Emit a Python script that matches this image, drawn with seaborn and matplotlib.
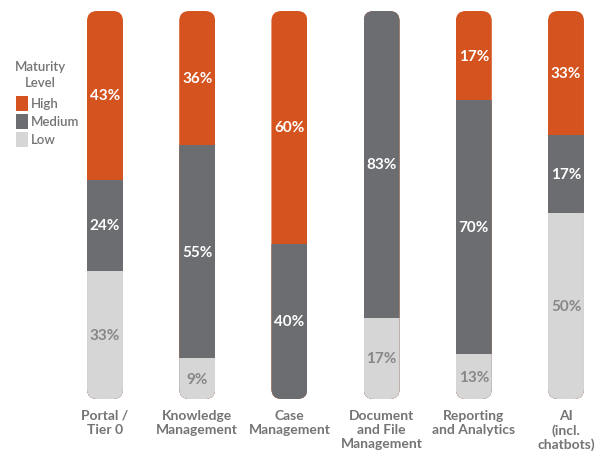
import matplotlib
matplotlib.use("Agg")
import matplotlib.pyplot as plt
from matplotlib.patches import FancyBboxPatch, Rectangle
import seaborn as sns
import pandas as pd

categories = ["Portal /\nTier 0", "Knowledge\nManagement", "Case\nManagement",
              "Document\nand File\nManagement", "Reporting\nand Analytics", "AI\n(incl.\nchatbots)"]
# printed percentages
high = [43, 36, 60, 0, 17, 33]
medium = [24, 55, 40, 83, 70, 17]
low = [33, 9, 0, 17, 13, 50]
# segment heights as drawn in the picture (the original art is not exactly proportional)
high_drawn = [43.5, 34.5, 60, 0, 23, 32]
medium_drawn = [23.5, 55, 40, 79, 65.5, 20]
low_drawn = [33, 10.5, 0, 21, 11.5, 48]
legend_title = "Maturity\nLevel"
legend_labels = ["High", "Medium", "Low"]

C_HIGH = "#D4531E"
C_MED = "#6C6D70"
C_LOW = "#D6D6D6"
C_TEXT = "#747474"
C_LOWTXT = "#878787"

sns.set_theme(style="white")
plt.rcParams["font.family"] = ["Lato", "DejaVu Sans"]

W, H = 599, 452
fig = plt.figure(figsize=(W / 100, H / 100), dpi=100)
ax = fig.add_axes([0, (H - 400) / H, 1, (400 - 12) / H])

df = pd.DataFrame({"cat": categories, "high": high_drawn, "medium": medium_drawn, "low": low_drawn})
df["total"] = df["high"] + df["medium"] + df["low"]
df["lm"] = df["low"] + df["medium"]

bw = 0.39
sns.barplot(data=df, x="cat", y="total", color=C_HIGH, saturation=1, width=bw, ax=ax, order=categories)
sns.barplot(data=df, x="cat", y="lm", color=C_MED, saturation=1, width=bw, ax=ax, order=categories)
sns.barplot(data=df, x="cat", y="low", color=C_LOW, saturation=1, width=bw, ax=ax, order=categories)

ax.set_xlim(-105 / 92.2, 5 + 33 / 92.2)
ax.set_ylim(0, 100)

# rounded clipping for pill-like bars
xpp = 1 / 92.2
ypp = 100 / 388
aspect = ypp / xpp
r = 10 * xpp
clips = {}
for i in range(len(categories)):
    clips[i] = FancyBboxPatch((i - bw / 2, 0), bw, 100,
                              boxstyle=f"round,pad=0,rounding_size={r}",
                              mutation_aspect=aspect, transform=ax.transData)
for patch in ax.patches:
    i = int(round(patch.get_x() + patch.get_width() / 2))
    if i in clips:
        patch.set_clip_path(clips[i])
        patch.set_edgecolor("none")
        patch.set_linewidth(0)

# segment labels
for i in range(len(categories)):
    segs = [(0, low_drawn[i], low[i], C_LOWTXT),
            (low_drawn[i], medium_drawn[i], medium[i], "white"),
            (low_drawn[i] + medium_drawn[i], high_drawn[i], high[i], "white")]
    for base, h, v, col in segs:
        if v > 0:
            ax.text(i, base + h / 2, f"{v}%", ha="center", va="center", color=col,
                    fontsize=11, fontweight="bold")

ax.set_xticks(range(len(categories)))
ax.set_xticklabels(categories, fontsize=10, color=C_TEXT, fontweight="bold", linespacing=1.2, va="top")
ax.tick_params(axis="x", length=0, pad=7)
ax.set_yticks([])
ax.set_xlabel("")
ax.set_ylabel("")
for s in ax.spines.values():
    s.set_visible(False)

# legend
fig.text(40 / W, 1 - 75 / H, legend_title, ha="center", va="center", fontsize=9.5,
         color=C_TEXT, fontweight="semibold", linespacing=1.45)
for k, (lab, col) in enumerate(zip(legend_labels, [C_HIGH, C_MED, C_LOW])):
    y0 = 97 + k * 18
    fig.add_artist(Rectangle((16 / W, 1 - (y0 + 15) / H), 12 / W, 15 / H,
                             transform=fig.transFigure, color=col, lw=0))
    fig.text(31 / W, 1 - (y0 + 7.5) / H, lab, ha="left", va="center", fontsize=9.5,
             color=C_TEXT, fontweight="semibold")

fig.savefig("out.png", dpi=100)
